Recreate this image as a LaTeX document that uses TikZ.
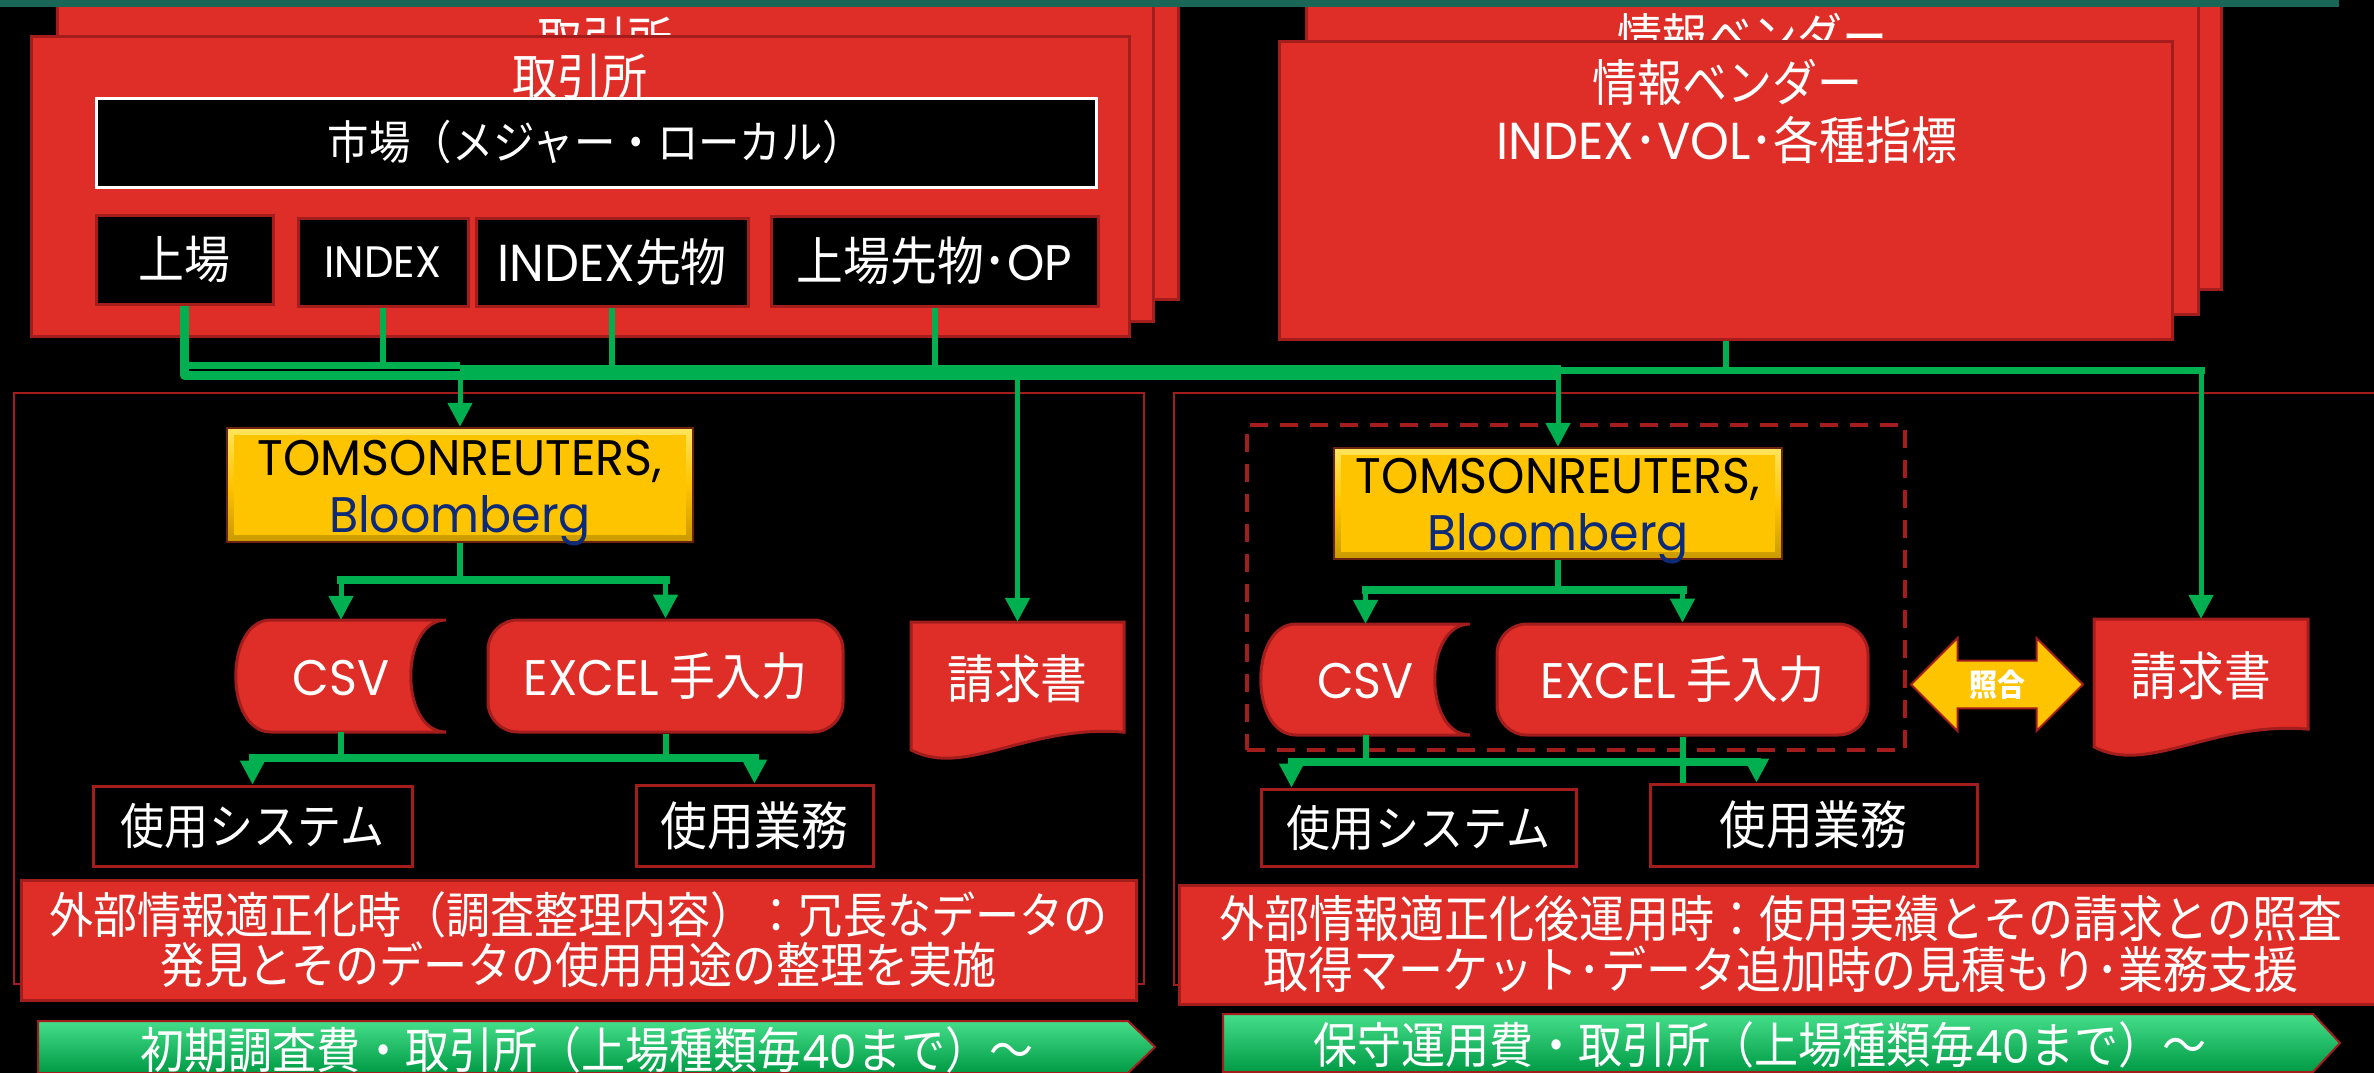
\documentclass[tikz,border=0pt]{standalone}
\usepackage{fontspec}
\setmainfont[FakeStretch=0.9]{Noto Sans CJK JP}
\newfontfamily\lat[FakeStretch=0.95]{Poppins}
\usetikzlibrary{arrows.meta,shapes.arrows}
\definecolor{bgred}{HTML}{DF2E28}
\definecolor{bdred}{HTML}{A31D1D}
\definecolor{grn}{HTML}{00B050}
\definecolor{topbar}{HTML}{1B6757}
\definecolor{ylw}{HTML}{FFC400}
\definecolor{ylwtop}{HTML}{FFE45C}
\definecolor{ylwbot}{HTML}{C99A00}
\definecolor{ylwbd}{HTML}{6B2410}
\definecolor{navy}{HTML}{0D2B78}
\definecolor{gtop}{HTML}{45DE8A}
\definecolor{gmid}{HTML}{00C05A}
\definecolor{gbot}{HTML}{009A45}
\newcommand\fsz[2]{\fontsize{#1}{#2}\selectfont}
\tikzset{
  sz/.style 2 args={minimum width=#1, minimum height=#2},
  redbox/.style={fill=bgred, draw=bdred, line width=3pt, inner sep=0},
  blkbox/.style={fill=black, draw=bdred, line width=3pt, inner sep=0, text=white},
  wt/.style={text=white, inner sep=0},
  ybox/.style={draw=ylwbd, line width=2.5pt, top color=ylwtop, bottom color=ylwbot, middle color=ylw, inner sep=0},
  gline/.style={draw=grn, line width=6pt},
  gbar/.style={draw=grn, line width=8pt, line cap=rect},
  garr/.style={draw=grn, line width=5pt, -{Triangle[width=24pt,length=24pt]}},
  banner/.style={draw=bdred, line width=2pt, top color=gtop, middle color=gmid, bottom color=gbot},
}
% document shape: name, left, top, width, height
\newcommand\docshape[5]{%
  \path[fill=bgred, draw=bdred, line width=3pt]
    (#2,#3) -- ({#2+#4},#3) -- ({#2+#4},{#3+0.81*#5})
    .. controls ({#2+0.55*#4},{#3+0.75*#5}) and ({#2+0.25*#4},{#3+1.15*#5}) .. (#2,{#3+0.94*#5}) -- cycle;
  \node[inner sep=0, minimum width=#4, minimum height=#5] (#1) at ({#2+0.5*#4},{#3+0.5*#5}) {};
}
% stored data shape: name, left, top, width, height
\newcommand\csvshape[5]{%
  \path[fill=bgred, draw=bdred, line width=3pt]
    ({#2+35},#3) -- ({#2+#4},#3)
    .. controls ({#2+#4-47},#3) and ({#2+#4-47},{#3+#5}) .. ({#2+#4},{#3+#5})
    -- ({#2+35},{#3+#5})
    .. controls ({#2-12},{#3+#5}) and ({#2-12},#3) .. ({#2+35},#3) -- cycle;
  \node[inner sep=0, minimum width=#4, minimum height=#5] (#1) at ({#2+0.5*#4},{#3+0.5*#5}) {};
}
\begin{document}
\begin{tikzpicture}[x=1pt,y=-1pt]
\useasboundingbox (0,0) rectangle (2374,1073);
\fill[black] (0,0) rectangle (2374,1073);

% ---------- exchange stack ----------
\node[redbox, sz={1096}{329}] (exB) at (630,134.5) {};
\node[redbox, sz={1096}{326}] (exM) at (605,158) {};
\node[wt, font=\fsz{50}{50}] (exMt) at (605,40) {取引所};
\node[redbox, sz={1098}{299}] (exF) at (580,186.5) {};
\node[wt, font=\fsz{50}{50}] (exFt) at (580,77) {取引所};
\node[fill=black, draw=white, line width=3pt, sz={1000}{89}, inner sep=0, text=white, font=\fsz{46}{46}] (mkt) at (596,142.5) {市場（メジャー・ローカル）};
\node[blkbox, sz={177}{89}, font=\fsz{51}{51}] (jo) at (184.5,259.5) {上場};
\node[blkbox, sz={170}{88}, font=\lat\fsz{44}{44}] (idx) at (383,262) {INDEX};
\node[blkbox, sz={272}{88}, font=\fsz{51}{51}] (idxf) at (612,262) {{\lat\fsz{52}{52}INDEX}先物};
\node[blkbox, sz={327}{90}, font=\fsz{52}{52}] (jof) at (934.5,261) {上場先物･{\lat\fsz{50}{50}OP}};

% ---------- vendor stack ----------
\node[redbox, sz={888}{319}] (vB) at (1777,129.5) {};
\node[redbox, sz={892}{319}] (vM) at (1752,154.5) {};
\node[wt, font=\fsz{50}{50}] (vMt) at (1752,36) {情報ベンダー};
\node[redbox, sz={893}{297}] (vF) at (1725.5,190.5) {};
\node[wt, font=\fsz{50}{50}] (vFt) at (1727,82) {情報ベンダー};
\node[wt, font=\fsz{51}{51}] (vFs) at (1727,140) {{\lat\fsz{52}{52}INDEX}･{\lat\fsz{52}{52}VOL}･各種指標};

% ---------- top bar ----------
\fill[topbar] (0,0) rectangle (2339,7);

% ---------- panels ----------
\node[draw=bdred, line width=2.5pt, sz={1130}{591}] (panL) at (579,688.5) {};
\node[draw=bdred, line width=2.5pt, sz={1216}{592}] (panR) at (1782,689) {};
\node[draw=bdred, line width=4pt, dash pattern=on 18pt off 12pt, sz={658}{325}] (grp) at (1576,587.5) {};

% ---------- left panel ----------
\node[ybox, sz={466}{114}] (tsL) at (460,485) {};
\fill[ylw] ([shift={(8,8)}]tsL.north west) rectangle ([shift={(-8,-8)}]tsL.south east);
\node[inner sep=0, anchor=base, font=\lat\fsz{50}{50}] (tsL1) at (460,475) {TOMSONREUTERS,};
\node[inner sep=0, anchor=base, text=navy, font=\lat\fsz{50}{50}] (tsL2) at (460,532) {Bloomberg};

\csvshape{csvL}{236}{620}{210}{112}
\node[wt, font=\lat\fsz{50}{50}] (csvLt) at (341,678) {CSV};
\node[redbox, rounded corners=30pt, sz={355}{112}, text=white, font=\fsz{51}{51}] (excL) at (665.5,676) {{\lat\fsz{50}{50}EXCEL} 手入力};
\docshape{billL}{911}{622}{213}{136}
\node[wt, font=\fsz{52}{52}] (billLt) at (1017.5,679) {請求書};
\node[blkbox, sz={319}{80}, font=\fsz{49}{49}] (sysL) at (252.5,826) {使用システム};
\node[blkbox, sz={237}{81}, font=\fsz{52}{52}] (gyoL) at (754.5,825.5) {使用業務};

% ---------- right panel ----------
\node[ybox, sz={448}{111}] (tsR) at (1558,503.5) {};
\fill[ylw] ([shift={(8,8)}]tsR.north west) rectangle ([shift={(-8,-8)}]tsR.south east);
\node[inner sep=0, anchor=base, font=\lat\fsz{50}{50}] (tsR1) at (1558,493) {TOMSONREUTERS,};
\node[inner sep=0, anchor=base, text=navy, font=\lat\fsz{50}{50}] (tsR2) at (1558,550) {Bloomberg};

\csvshape{csvR}{1261}{624}{209}{111}
\node[wt, font=\lat\fsz{50}{50}] (csvRt) at (1365.5,681) {CSV};
\node[redbox, rounded corners=30pt, sz={371}{111}, text=white, font=\fsz{51}{51}] (excR) at (1682.5,679.5) {{\lat\fsz{50}{50}EXCEL} 手入力};
\node[double arrow, double arrow head extend=15pt, double arrow tip angle=90, minimum height=172, minimum width=93, inner sep=0, fill=ylw, draw=bdred, line width=2pt, text=white, font=\fsz{31}{31}\bfseries] (chk) at (1997,684.5) {照合};
\docshape{billR}{2094}{619}{214}{136}
\node[wt, font=\fsz{52}{52}] (billRt) at (2201,676) {請求書};
\node[blkbox, sz={315}{77}, font=\fsz{49}{49}] (sysR) at (1418.5,827.5) {使用システム};
\node[blkbox, sz={327}{82}, font=\fsz{52}{52}] (gyoR) at (1813.5,825) {使用業務};

% ---------- green bus ----------
\coordinate (yUp) at (0,365);
\coordinate (yLo) at (0,375);
\coordinate (yBand) at (0,372.5);
\coordinate (yRt) at (0,370);
\draw[grn, line width=9pt, line join=round] (jo.south) -- (jo.south |- yLo) -- (tsL.north |- yLo);
\draw[grn, line width=7pt] (jo.south |- yUp) -- (tsL.north |- yUp);
\draw[gline] (idx.south) -- (idx.south |- yUp);
\draw[gline] (idxf.south) -- (idxf.south |- yBand);
\draw[gline] (jof.south) -- (jof.south |- yBand);
\draw[gline] (vF.south) -- (vF.south |- yRt);
\draw[grn, line width=15pt] (tsL.north |- yBand) -- ([xshift=3pt]tsR.north |- yBand);
\draw[grn, line width=7pt, line cap=rect] (tsR.north |- yRt) -- (billR.north |- yRt);
\draw[garr] (tsL.north |- yBand) -- (tsL.north);
\draw[garr] (billL.north |- yBand) -- (billL.north);
\draw[garr] (tsR.north |- yBand) -- (tsR.north);
\draw[garr] (billR.north |- yRt) -- (billR.north);

% ---------- left branches ----------
\coordinate (brL) at (0,580);
\coordinate (blL) at (0,758);
\draw[gline] (tsL.south) -- (tsL.south |- brL);
\draw[gbar] (csvL.north |- brL) -- (excL.north |- brL);
\draw[garr] (csvL.north |- brL) -- (csvL.north);
\draw[garr] (excL.north |- brL) -- (excL.north);
\draw[gline] (csvL.south) -- (csvL.south |- blL);
\draw[gline] (excL.south) -- (excL.south |- blL);
\draw[gbar] (sysL.north |- blL) -- (gyoL.north |- blL);
\draw[garr] (sysL.north |- blL) -- (sysL.north);
\draw[garr] (gyoL.north |- blL) -- (gyoL.north);

% ---------- right branches ----------
\coordinate (brR) at (0,590);
\coordinate (blR) at (0,762);
\coordinate (aS) at ([xshift=32pt]sysR.north west);
\coordinate (aG) at ([xshift=-57pt]gyoR.north);
\draw[gline] (tsR.south) -- (tsR.south |- brR);
\draw[gbar] (csvR.north |- brR) -- (excR.north |- brR);
\draw[garr] (csvR.north |- brR) -- (csvR.north);
\draw[garr] (excR.north |- brR) -- (excR.north);
\draw[gline] (csvR.south) -- (csvR.south |- blR);
\draw[gline] (excR.south) -- (gyoR.north -| excR.south);
\draw[gbar] (aS |- blR) -- (aG |- blR);
\draw[garr] (aS |- blR) -- (aS);
\draw[garr] (aG |- blR) -- (aG);

% ---------- notes ----------
\node[redbox, sz={1115}{120}, text=white, align=center, font=\fsz{49}{50}] (noteL) at (578.5,940) {外部情報適正化時（調査整理内容）：冗長なデータの\\発見とそのデータの使用用途の整理を実施};
\node[redbox, sz={1204}{119}, text=white, align=center, font=\fsz{50}{51}] (noteR) at (1781,944.5) {外部情報適正化後運用時：使用実績とその請求との照査\\取得マーケット･データ追加時の見積もり･業務支援};

% ---------- banners ----------
\path[banner] (38,1021) -- (1128,1021) -- (1155,1047) -- (1128,1073) -- (38,1073) -- cycle;
\node[wt, font=\fsz{49}{49}] (banL) at (587,1050) {初期調査費・取引所（上場種類毎{\lat\fsz{46}{46}40}まで）～};
\path[banner] (1223,1014) -- (2313,1014) -- (2340,1043) -- (2313,1072) -- (1223,1072) -- cycle;
\node[wt, font=\fsz{49}{49}] (banR) at (1760,1045) {保守運用費・取引所（上場種類毎{\lat\fsz{46}{46}40}まで）～};
\end{tikzpicture}
\end{document}
